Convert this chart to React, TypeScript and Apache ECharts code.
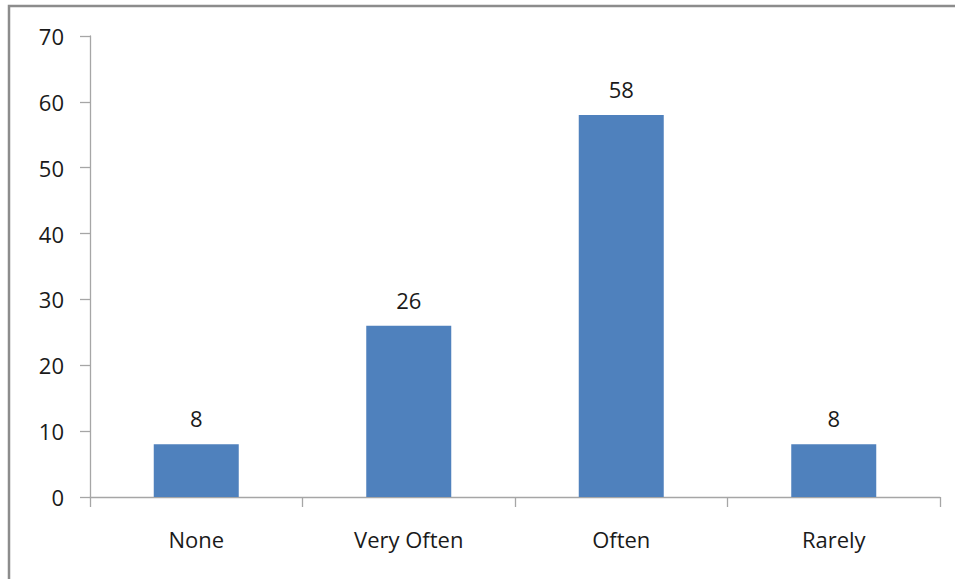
import React, { useEffect, useRef } from "react";
import * as echarts from "echarts";

const categories = ["None", "Very Often", "Often", "Rarely"];
const values = [8, 26, 58, 8];
const yTicks = [0, 10, 20, 30, 40, 50, 60, 70];

export default function App() {
  const ref = useRef<HTMLDivElement>(null);

  useEffect(() => {
    if (!ref.current) return;
    const chart = echarts.init(ref.current, null, { renderer: "svg" });
    const font = "'Open Sans', 'Noto Sans', sans-serif";
    chart.setOption({
      animation: false,
      backgroundColor: "#ffffff",
      textStyle: { fontFamily: font },
      graphic: [
        {
          type: "rect",
          shape: { x: 9, y: 6, width: 1000, height: 1000 },
          style: { fill: "none", stroke: "#8c8c8c", lineWidth: 2.5 },
          silent: true,
        },
      ],
      grid: { left: 90, right: 15, top: 36, bottom: 82, containLabel: false },
      xAxis: {
        type: "category",
        data: categories,
        boundaryGap: true,
        axisLine: { lineStyle: { color: "#a6a6a6", width: 1.3 } },
        axisTick: { show: true, length: 10, lineStyle: { color: "#a6a6a6", width: 1.3 } },
        axisLabel: { color: "#1a1a1a", fontSize: 22, margin: 31, fontFamily: font },
      },
      yAxis: {
        type: "value",
        min: yTicks[0],
        max: yTicks[yTicks.length - 1],
        interval: 10,
        splitLine: { show: false },
        axisLine: { show: true, lineStyle: { color: "#a6a6a6", width: 1.3 } },
        axisTick: { show: true, length: 10, lineStyle: { color: "#a6a6a6", width: 1.3 } },
        axisLabel: { color: "#1a1a1a", fontSize: 22, margin: 26, fontFamily: font },
      },
      series: [
        {
          type: "bar",
          data: values,
          barWidth: "40%",
          itemStyle: { color: "#4f81bd" },
          label: {
            show: true,
            position: "top",
            distance: 15,
            color: "#1a1a1a",
            fontSize: 22,
            fontFamily: font,
          },
        },
      ],
    });
    return () => chart.dispose();
  }, []);

  return (
    <div
      ref={ref}
      style={{ position: "fixed", left: 0, top: 0, width: 955, height: 579 }}
    />
  );
}
